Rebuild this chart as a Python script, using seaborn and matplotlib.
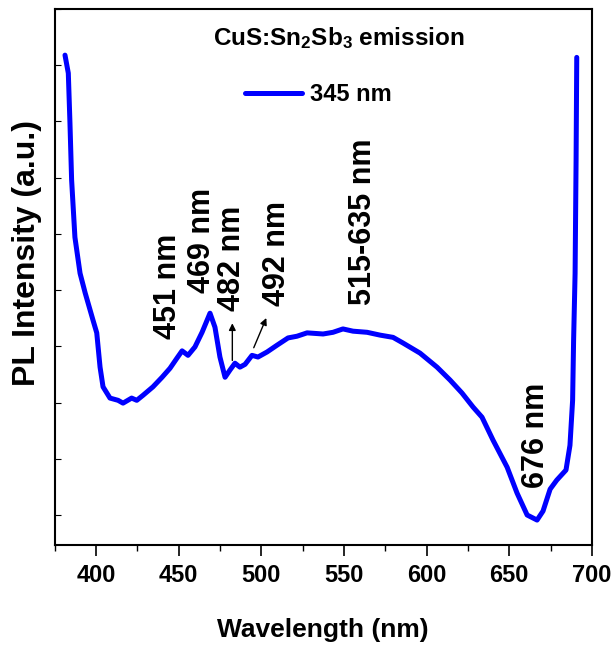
import matplotlib
matplotlib.use("Agg")
import matplotlib.pyplot as plt
from matplotlib import font_manager
from matplotlib.ticker import MultipleLocator
import pandas as pd
import seaborn as sns

# PL emission spectrum of CuS:Sn2Sb3 (excitation 345 nm)
wavelength = [381.3, 383.3, 384.3, 385.3, 387.3, 390.4, 393.5, 398.2, 400.5, 402.5,
              404.3, 408.5, 413.4, 416.4, 421.6, 424.7, 428.5, 434.5, 440.0, 444.8,
              449.0, 452.1, 455.7, 459.9, 464.2, 469.0, 472.0, 475.0, 478.1, 481.1,
              484.1, 487.1, 490.2, 494.4, 498.0, 503.5, 509.5, 516.2, 521.6, 527.7,
              537.4, 543.4, 549.4, 555.5, 564.0, 571.8, 579.7, 585.7, 596.0, 606.3,
              614.2, 621.4, 628.1, 633.5, 640.2, 648.7, 654.7, 660.8, 666.8, 670.4,
              674.7, 678.7, 684.3, 686.7, 688.3, 688.9, 689.8, 690.4, 690.8]
intensity = [8.18, 7.86, 6.97, 5.96, 4.94, 4.30, 3.95, 3.47, 3.24, 2.63,
             2.28, 2.08, 2.04, 1.99, 2.08, 2.04, 2.13, 2.28, 2.45, 2.61,
             2.79, 2.92, 2.84, 2.99, 3.25, 3.59, 3.34, 2.81, 2.45, 2.58,
             2.70, 2.63, 2.68, 2.84, 2.81, 2.90, 3.02, 3.15, 3.18, 3.24,
             3.22, 3.25, 3.31, 3.27, 3.25, 3.20, 3.16, 3.06, 2.88, 2.63,
             2.40, 2.17, 1.92, 1.74, 1.33, 0.85, 0.39, 0.00, -0.09, 0.07,
             0.46, 0.62, 0.80, 1.24, 2.04, 3.11, 4.30, 6.31, 8.14]

peak_labels = ["451 nm", "469 nm", "482 nm", "492 nm", "515-635 nm", "676 nm"]
peak_label_x = [443.6, 464.2, 482.3, 509.5, 561.6, 666.3]
peak_label_y = [4.06, 4.89, 4.57, 4.66, 5.21, 1.42]

spectrum = pd.DataFrame({"Wavelength": wavelength, "Intensity": intensity})

sns.set_theme(style="ticks")
installed = {f.name for f in font_manager.fontManager.ttflist}
narrow = "Liberation Sans Narrow" if "Liberation Sans Narrow" in installed else "Liberation Sans"
plt.rcParams["font.family"] = ["Liberation Sans", "DejaVu Sans"]
plt.rcParams["font.weight"] = "bold"
plt.rcParams["mathtext.default"] = "regular"
for key in ("text.color", "axes.labelcolor", "xtick.color", "ytick.color", "axes.edgecolor"):
    plt.rcParams[key] = "black"

fig = plt.figure(figsize=(6.14, 6.46), dpi=100)
ax = fig.add_axes([0.0889, 0.1563, 0.8752, 0.8297])

sns.lineplot(data=spectrum, x="Wavelength", y="Intensity", ax=ax, sort=False,
             estimator=None, color="#0000ff", lw=3.6, label="345 nm")

ax.set_xlim(375, 700)
ax.set_ylim(-0.534, 9.0)
ax.xaxis.set_major_locator(MultipleLocator(50))
ax.xaxis.set_minor_locator(MultipleLocator(25))
ax.yaxis.set_major_locator(MultipleLocator(1))
ax.set_yticklabels([])
ax.tick_params(axis="x", which="major", direction="out", length=8, width=1.2,
               labelsize=17, pad=6)
ax.tick_params(axis="x", which="minor", direction="out", length=4, width=1.0)
ax.tick_params(axis="y", which="major", direction="in", length=4, width=0.8, left=True)
for lab in ax.get_xticklabels():
    lab.set_fontfamily(narrow)
    lab.set_fontweight("bold")
for sp in ax.spines.values():
    sp.set_linewidth(1.5)
    sp.set_color("black")

ax.set_xlabel("Wavelength (nm)", fontsize=19, fontweight="bold", family=narrow, labelpad=22)
ax.set_ylabel("PL Intensity (a.u.)", fontsize=23, fontweight="bold")
ax.yaxis.set_label_coords(-0.024, 0.545)

for txt, tx, ty in zip(peak_labels, peak_label_x, peak_label_y):
    ax.text(tx, ty, txt, rotation=90, ha="center", va="center",
            fontsize=22, fontweight="bold")

ax.annotate("", xy=(482.5, 3.46), xytext=(482.5, 2.70),
            arrowprops=dict(arrowstyle="-|>", color="black", lw=1.0, mutation_scale=10))
ax.annotate("", xy=(503.7, 3.55), xytext=(494.8, 2.93),
            arrowprops=dict(arrowstyle="-|>", color="black", lw=1.0, mutation_scale=10))

ax.text(0.529, 0.946, "CuS:Sn$_2$Sb$_3$ emission", transform=ax.transAxes,
        ha="center", va="center", fontsize=17.5, fontweight="bold", family=narrow)
ax.legend(loc="center left", bbox_to_anchor=(0.355, 0.841), frameon=False,
          handlelength=2.4, handletextpad=0.35, borderpad=0, borderaxespad=0,
          prop=dict(family=narrow, weight="bold", size=17))

fig.savefig("out.png", dpi=100)
